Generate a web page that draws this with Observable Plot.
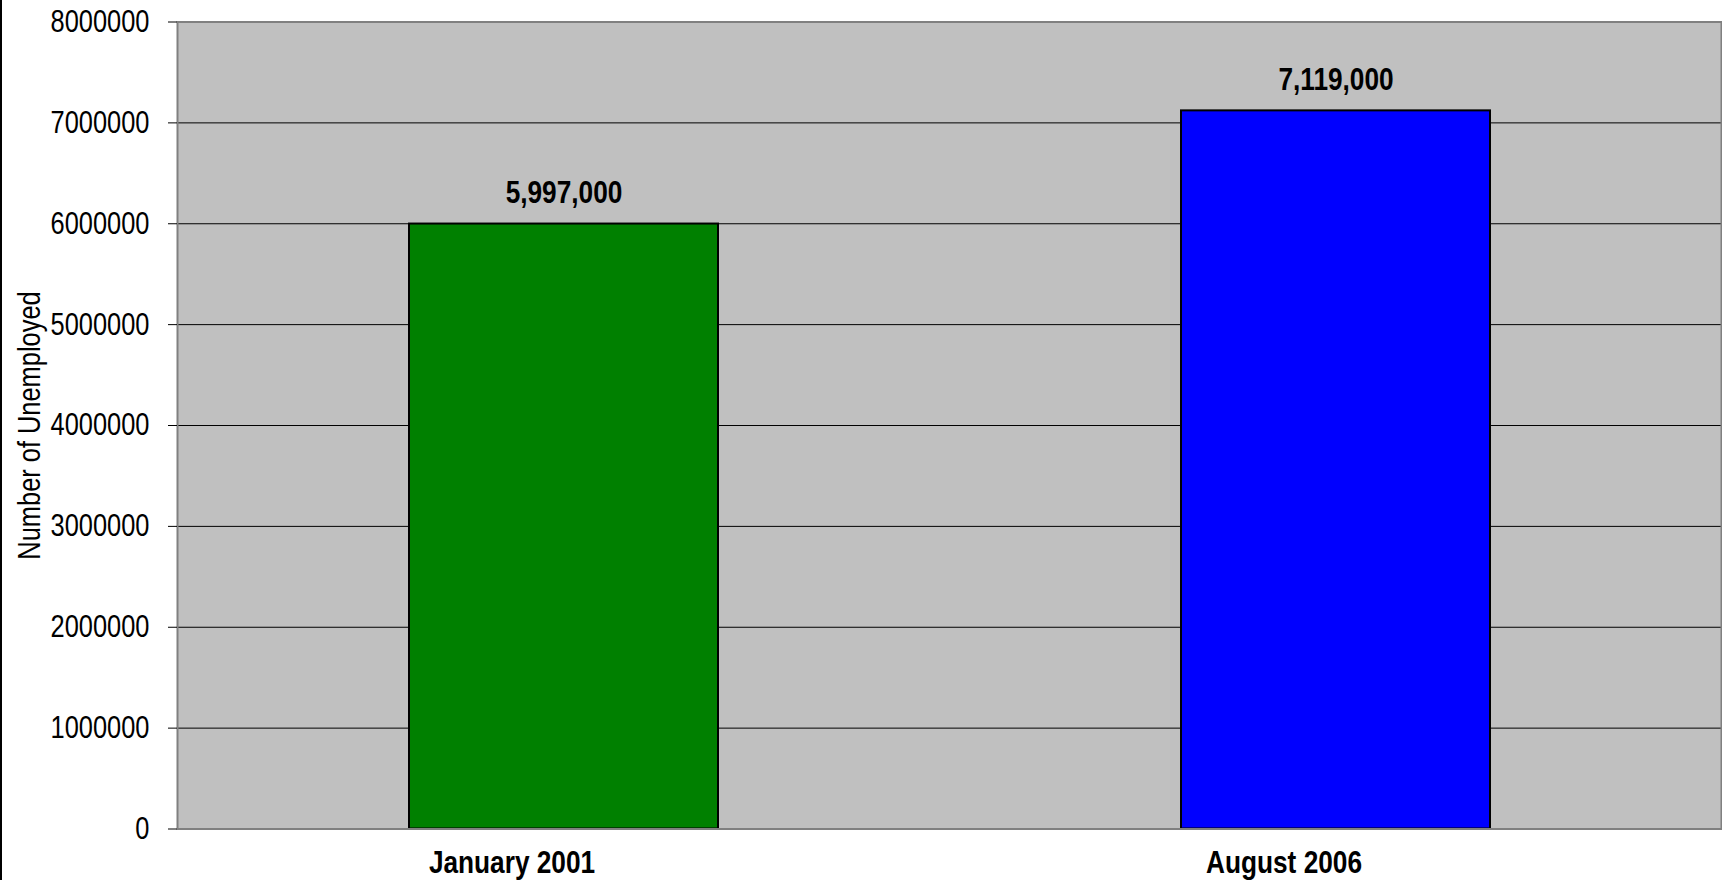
<!DOCTYPE html>
<html><head><meta charset="utf-8">
<script src="https://cdn.jsdelivr.net/npm/d3@7"></script>
<script src="https://cdn.jsdelivr.net/npm/@observablehq/plot@0.6"></script>
<style>
html,body{margin:0;padding:0;background:#fff;overflow:hidden}
body::before{content:"";position:absolute;left:0;top:0;width:2px;height:880px;background:#000}
</style></head><body><div id="chart"></div>
<script>
const categories = ["January 2001", "August 2006"];
const unemployed = [5997000, 7119000];
const barColors = ["#008000", "#0000FF"];
const yTicks = [0, 1000000, 2000000, 3000000, 4000000, 5000000, 6000000, 7000000, 8000000];
const yTitle = "Number of Unemployed";

const data = categories.map((c, i) => ({category: c, value: unemployed[i], color: barColors[i]}));
const font = "'Liberation Sans', Arial, sans-serif";

const chart = Plot.plot({
  width: 1722, height: 880,
  marginLeft: 177, marginRight: 1, marginTop: 21.5, marginBottom: 51.5,
  style: {fontFamily: font, fontSize: "31px", color: "#000", background: "#fff"},
  x: {domain: categories, paddingInner: 0.6, paddingOuter: 0.3},
  y: {domain: [0, 8000000]},
  color: {type: "identity"},
  marks: [
    Plot.frame({fill: "#C0C0C0", stroke: null}),
    Plot.gridY(yTicks, {stroke: "#000", strokeOpacity: 1, strokeWidth: 1}),
    Plot.barY(data, {x: "category", y: "value", fill: "color", stroke: "#000", strokeWidth: 2}),
    Plot.text(data, {x: "category", y: "value", text: d => d3.format(",")(d.value), lineAnchor: "bottom", dy: -21, fontSize: 32, fontWeight: "bold"}),
    Plot.frame({stroke: "#808080", strokeWidth: 2}),
    Plot.axisY(yTicks, {tickSize: 9, tickPadding: 19, tickFormat: d => String(d), stroke: "#000", label: yTitle, labelAnchor: "center", labelArrow: "none", labelOffset: 160, fontSize: 31}),
    Plot.axisX({tickSize: 0, tickPadding: 21, dx: -52, fontSize: 32, fontWeight: "bold", label: null})
  ]
});
document.getElementById("chart").appendChild(chart);

// No narrow font installed: condense text horizontally around each anchor point
d3.select(chart).selectAll("text").each(function () {
  const t = d3.select(this);
  let x = parseFloat(t.attr("x"));
  if (!isFinite(x) || /em/.test(t.attr("x") || "")) x = 0;
  const tr = t.attr("transform") || "";
  t.attr("transform", `${tr} translate(${x},0) scale(0.82,1) translate(${-x},0)`);
});
</script>
</body></html>
